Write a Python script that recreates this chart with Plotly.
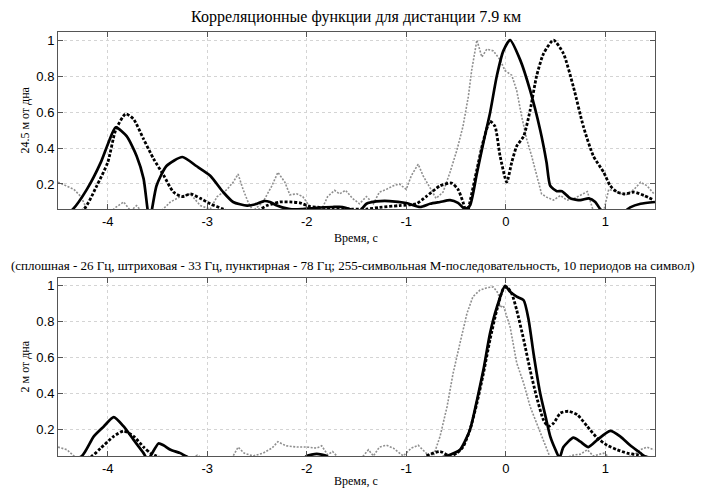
import plotly.graph_objects as go

# ---------------- data ----------------
# Top panel: 24.5 m from bottom
top_solid_t = [-4.5,-4.35,-4.21,-4.07,-4.0,-3.92,-3.81,-3.71,-3.64,-3.58,-3.51,-3.41,-3.25,-3.11,-2.97,-2.84,-2.74,-2.6,-2.5,-2.43,-2.37,-2.30,-2.17,-2.05,-1.9,-1.74,-1.64,-1.54,-1.47,-1.40,-1.30,-1.17,-1.0,-0.86,-0.76,-0.66,-0.56,-0.48,-0.41,-0.36,-0.29,-0.225,-0.158,-0.09,-0.024,0.044,0.145,0.245,0.346,0.41,0.447,0.514,0.565,0.65,0.75,0.834,0.90,0.95,1.0,1.1,1.2,1.25,1.355,1.5]
top_solid_v = [0.0,0.06,0.17,0.32,0.42,0.515,0.466,0.356,0.23,0.0,0.19,0.30,0.35,0.30,0.246,0.155,0.10,0.08,0.09,0.105,0.10,0.08,0.06,0.06,0.068,0.072,0.072,0.055,0.05,0.09,0.103,0.105,0.094,0.072,0.09,0.10,0.11,0.095,0.06,0.08,0.26,0.43,0.595,0.80,0.94,1.0,0.89,0.72,0.50,0.32,0.19,0.16,0.16,0.12,0.11,0.12,0.10,0.06,0.04,0.04,0.05,0.07,0.09,0.10]

top_dash_t = [-4.5,-4.24,-4.11,-4.0,-3.92,-3.82,-3.74,-3.64,-3.54,-3.44,-3.34,-3.25,-3.17,-3.07,-2.97,-2.84,-2.7,-2.5,-2.40,-2.27,-2.17,-2.07,-1.97,-1.87,-1.74,-1.54,-1.4,-1.27,-1.07,-0.90,-0.80,-0.66,-0.545,-0.48,-0.43,-0.39,-0.36,-0.29,-0.225,-0.158,-0.108,-0.057,0.01,0.06,0.11,0.18,0.245,0.31,0.38,0.48,0.58,0.68,0.78,0.88,0.985,1.05,1.12,1.20,1.29,1.39,1.49]
top_dash_v = [0.0,0.06,0.19,0.32,0.50,0.59,0.56,0.45,0.34,0.25,0.155,0.13,0.145,0.12,0.09,0.06,0.03,0.05,0.08,0.10,0.10,0.095,0.075,0.07,0.068,0.06,0.06,0.07,0.08,0.09,0.13,0.19,0.205,0.17,0.10,0.03,0.10,0.28,0.44,0.55,0.52,0.356,0.21,0.32,0.41,0.466,0.61,0.80,0.925,1.0,0.925,0.74,0.52,0.356,0.264,0.19,0.155,0.145,0.155,0.136,0.11]

top_dot_t = [-4.5,-4.41,-4.34,-4.27,-4.21,-4.1,-3.98,-3.92,-3.84,-3.77,-3.71,-3.65,-3.5,-3.37,-3.27,-3.17,-3.07,-2.97,-2.90,-2.80,-2.74,-2.69,-2.64,-2.59,-2.54,-2.44,-2.35,-2.29,-2.22,-2.17,-2.10,-2.04,-1.94,-1.84,-1.79,-1.72,-1.67,-1.61,-1.54,-1.47,-1.40,-1.33,-1.27,-1.20,-1.13,-1.07,-1.0,-0.95,-0.88,-0.83,-0.76,-0.70,-0.63,-0.56,-0.49,-0.43,-0.376,-0.343,-0.29,-0.24,-0.19,-0.124,-0.057,-0.007,0.06,0.11,0.16,0.21,0.26,0.31,0.36,0.41,0.48,0.55,0.615,0.68,0.75,0.82,0.88,0.93,0.985,1.035,1.12,1.20,1.29,1.355,1.42,1.49]
top_dot_v = [0.21,0.19,0.17,0.13,0.06,0.03,0.04,0.07,0.10,0.05,0.08,0.04,0.03,0.10,0.13,0.145,0.08,0.06,0.13,0.17,0.21,0.255,0.17,0.10,0.05,0.10,0.19,0.265,0.21,0.14,0.145,0.13,0.05,0.07,0.13,0.165,0.145,0.165,0.12,0.09,0.13,0.09,0.155,0.17,0.19,0.20,0.17,0.245,0.31,0.245,0.18,0.12,0.155,0.265,0.39,0.52,0.686,0.83,1.0,0.906,0.95,0.94,0.89,0.83,0.805,0.72,0.576,0.45,0.356,0.246,0.145,0.127,0.11,0.136,0.11,0.117,0.136,0.158,0.05,0.04,0.05,0.17,0.155,0.136,0.17,0.21,0.19,0.145]

# Bottom panel: 2 m from bottom
bot_solid_t = [-4.5,-4.26,-4.14,-4.04,-3.94,-3.84,-3.74,-3.64,-3.6,-3.57,-3.49,-3.44,-3.37,-3.27,-3.22,-3.0,-2.1,-2.0,-1.9,-1.8,-1.7,-1.0,-0.8,-0.56,-0.46,-0.36,-0.29,-0.225,-0.158,-0.09,-0.007,0.044,0.11,0.18,0.23,0.28,0.346,0.40,0.447,0.50,0.54,0.58,0.68,0.75,0.83,0.92,1.05,1.15,1.25,1.355,1.39,1.5]
bot_solid_v = [0.0,0.05,0.16,0.215,0.267,0.215,0.14,0.066,0.03,0.05,0.12,0.11,0.085,0.066,0.05,0.0,0.0,0.05,0.062,0.05,0.0,0.0,0.02,0.057,0.085,0.196,0.36,0.53,0.735,0.88,1.0,0.967,0.94,0.92,0.81,0.62,0.40,0.27,0.16,0.085,0.04,0.10,0.153,0.13,0.10,0.14,0.19,0.16,0.11,0.066,0.05,0.02]

bot_dash_t = [-4.5,-4.16,-4.07,-3.94,-3.84,-3.74,-3.64,-3.57,-3.51,-3.3,-0.9,-0.80,-0.66,-0.56,-0.49,-0.43,-0.36,-0.29,-0.225,-0.158,-0.09,-0.024,0.01,0.06,0.11,0.18,0.245,0.31,0.38,0.43,0.48,0.55,0.63,0.72,0.82,0.92,1.02,1.12,1.22,1.32,1.39,1.5]
bot_dash_v = [0.0,0.05,0.094,0.16,0.19,0.16,0.10,0.066,0.05,0.0,0.0,0.05,0.075,0.05,0.066,0.10,0.196,0.345,0.51,0.70,0.865,0.985,0.994,0.957,0.865,0.70,0.53,0.38,0.25,0.215,0.233,0.29,0.30,0.28,0.215,0.15,0.11,0.085,0.066,0.057,0.05,0.03]

bot_dot_t = [-4.5,-4.41,-4.34,-4.25,-3.2,-3.1,-3.0,-2.8,-2.74,-2.69,-2.63,-2.54,-2.44,-2.35,-2.29,-2.21,-2.10,-2.0,-1.9,-1.85,-1.79,-1.74,-1.69,-1.5,-1.44,-1.38,-1.33,-1.27,-1.2,-1.13,-1.03,-0.95,-0.88,-0.80,-0.73,-0.66,-0.59,-0.53,-0.46,-0.39,-0.33,-0.26,-0.19,-0.124,-0.074,-0.057,-0.024,0.044,0.11,0.18,0.245,0.31,0.38,0.447,0.55,0.68,0.75,0.82,0.88,0.985,1.05,1.2,1.30,1.355,1.42,1.49]
bot_dot_v = [0.10,0.085,0.05,0.02,0.02,0.055,0.02,0.02,0.05,0.10,0.066,0.05,0.066,0.094,0.13,0.107,0.10,0.10,0.094,0.107,0.057,0.075,0.045,0.02,0.045,0.085,0.05,0.10,0.11,0.094,0.05,0.094,0.11,0.066,0.045,0.16,0.325,0.51,0.68,0.846,0.94,0.976,0.99,0.994,0.957,0.88,0.89,0.77,0.57,0.456,0.326,0.233,0.14,0.04,0.03,0.055,0.06,0.085,0.05,0.066,0.04,0.04,0.06,0.085,0.10,0.085]

x_ticks = [-4, -3, -2, -1, 0, 1]
x_tick_labels = ["-4", "-3", "-2", "-1", "0", "1"]
y_ticks = [0.2, 0.4, 0.6, 0.8, 1]
y_tick_labels = ["0.2", "0.4", "0.6", "0.8", "1"]

title_text = "Корреляционные функции для дистанции 7.9 км"
caption_text = ("(сплошная - 26 Гц, штриховая - 33 Гц, пунктирная - 78 Гц; "
                "255-символьная М-последовательность, 10 периодов на символ)")
xlabel_text = "Время, с"
ylabel_top = "24.5 м от дна"
ylabel_bot = "2 м от дна"

# ---------------- figure ----------------
W, H = 702, 488
ML, MR, MT, MB = 58, 47, 32, 30
PW, PH = W - ML - MR, H - MT - MB

def py(pix):  # pixel y -> paper y
    return (H - MB - pix) / PH

def px(pix):
    return (pix - ML) / PW

solid = dict(color="black", width=2.7)
dashed = dict(color="black", width=2.8, dash="3px,1.8px")
dotted = dict(color="#8f8f8f", width=1.6, dash="2px,1.5px")

fig = go.Figure()
for xa, ya, (st, sv), (dt, dv), (ot, ov) in [
    ("x", "y", (top_solid_t, top_solid_v), (top_dash_t, top_dash_v), (top_dot_t, top_dot_v)),
    ("x2", "y2", (bot_solid_t, bot_solid_v), (bot_dash_t, bot_dash_v), (bot_dot_t, bot_dot_v)),
]:
    fig.add_trace(go.Scatter(x=ot, y=ov, mode="lines", line=dotted, xaxis=xa, yaxis=ya, showlegend=False))
    fig.add_trace(go.Scatter(x=dt, y=dv, mode="lines", line=dict(**dashed, shape="spline", smoothing=0.6),
                             xaxis=xa, yaxis=ya, showlegend=False))
    fig.add_trace(go.Scatter(x=st, y=sv, mode="lines", line=dict(**solid, shape="spline", smoothing=0.6),
                             xaxis=xa, yaxis=ya, showlegend=False))

axis_common = dict(
    showline=True, linecolor="#555555", linewidth=1, mirror="ticks",
    ticks="inside", ticklen=5, tickcolor="#555555", tickwidth=1,
    showgrid=True, gridcolor="#d4d4d4", griddash="dot", gridwidth=1,
    zeroline=False,
    tickfont=dict(family="Liberation Sans, Arial", size=13, color="black"),
)

top_dom = [py(210), 1.0]
bot_dom = [0.0, py(279)]

fig.update_layout(
    width=W, height=H,
    margin=dict(l=ML, r=MR, t=MT, b=MB),
    paper_bgcolor="white", plot_bgcolor="white",
    xaxis=dict(domain=[0, 1], anchor="y", range=[-4.5, 1.5], tickvals=x_ticks, ticktext=x_tick_labels, **axis_common),
    yaxis=dict(domain=top_dom, anchor="x", range=[0.06, 1.045], tickvals=y_ticks, ticktext=y_tick_labels, **axis_common),
    xaxis2=dict(domain=[0, 1], anchor="y2", range=[-4.5, 1.5], tickvals=x_ticks, ticktext=x_tick_labels, **axis_common),
    yaxis2=dict(domain=bot_dom, anchor="x2", range=[0.05, 1.045], tickvals=y_ticks, ticktext=y_tick_labels, **axis_common),
    showlegend=False,
)

serif = "Liberation Serif, Times New Roman, serif"
annots = [
    dict(text=title_text, x=px(356), y=py(17), size=16),
    dict(text=caption_text, x=px(353), y=py(267), size=13),
    dict(text=xlabel_text, x=px(356), y=py(239), size=12),
    dict(text=xlabel_text, x=px(356), y=py(483), size=12),
]
for a in annots:
    fig.add_annotation(text=a["text"], x=a["x"], y=a["y"], xref="paper", yref="paper",
                       xanchor="center", yanchor="middle", showarrow=False,
                       font=dict(family=serif, size=a["size"], color="black"))
for txt, ypix in [(ylabel_top, 121), (ylabel_bot, 368)]:
    fig.add_annotation(text=txt, x=px(25), y=py(ypix), xref="paper", yref="paper",
                       xanchor="center", yanchor="middle", showarrow=False, textangle=-90,
                       font=dict(family=serif, size=12, color="black"))

fig.write_html("out.html")
